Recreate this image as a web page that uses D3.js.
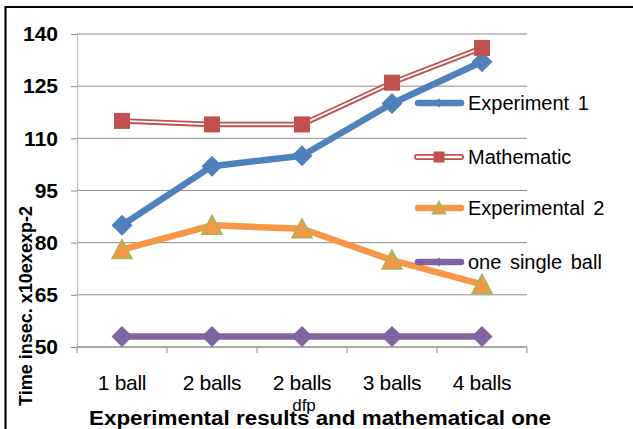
<!DOCTYPE html>
<html>
<head>
<meta charset="utf-8">
<script src="https://cdn.jsdelivr.net/npm/d3@7"></script>
<style>
  html, body { margin: 0; padding: 0; background: #fff; }
  svg { display: block; font-family: "Liberation Sans", Arial, sans-serif; }
</style>
</head>
<body>
<svg id="chart" width="633" height="429"></svg>
<script>
// Categories along the x axis
const categories = ["1 ball", "2 balls", "2 balls", "3 balls", "4 balls"];
// Series values (time in sec. x10^-2)
const experiment1 = [85, 102, 105, 120, 132];
const mathematic = [115, 114, 114, 126, 136];
const experimental2 = [78, 85, 84, 75, 68];
const singleBall = [53, 53, 53, 53, 53];
// Y axis ticks
const yTicks = [50, 65, 80, 95, 110, 125, 140];

const seriesList = [
  { name: "Experiment 1", values: experiment1, color: "#4F81BD", marker: "diamond" },
  { name: "Mathematic", values: mathematic, color: "#C0504D", marker: "square", double: true },
  { name: "Experimental 2", values: experimental2, color: "#F79646", marker: "triangle" },
  { name: "one single ball", values: singleBall, color: "#8064A2", marker: "diamond" }
];

const svg = d3.select("#chart");
const plot = { left: 77, right: 527, top: 34, bottom: 347 };

// Outer frame (open at right and bottom edges of the page)
svg.append("path")
  .attr("d", "M5.5,440 L5.5,7 L640,7")
  .attr("fill", "none").attr("stroke", "#000").attr("stroke-width", 2.2);

const x = d3.scaleBand().domain(d3.range(categories.length))
  .range([plot.left, plot.right]).padding(0);
const y = d3.scaleLinear().domain([50, 140]).range([plot.bottom, plot.top]);
const cx = i => x(i) + x.bandwidth() / 2;

// Marker path generators: r is the half-extent of the marker
function markerPath(type, r) {
  const p = d3.path();
  if (type === "diamond") {
    p.moveTo(0, -r); p.lineTo(r, 0); p.lineTo(0, r); p.lineTo(-r, 0); p.closePath();
  } else if (type === "square") {
    p.rect(-r, -r, 2 * r, 2 * r);
  } else {
    p.moveTo(0, -r); p.lineTo(r, r * 0.9); p.lineTo(-r, r * 0.9); p.closePath();
  }
  return p.toString();
}
const markerSize = { diamond: 10.5, square: 8, triangle: 10 };
const legendMarkerSize = { diamond: 4.5, square: 5.5, triangle: 6.5 };

// Horizontal gridlines
svg.append("g").selectAll("line").data(yTicks).join("line")
  .attr("x1", plot.left).attr("x2", plot.right)
  .attr("y1", d => y(d)).attr("y2", d => y(d))
  .attr("stroke", "#8c8c8c").attr("stroke-width", 1);

// Y axis
const yAxis = svg.append("g").attr("transform", `translate(${plot.left},0)`)
  .call(d3.axisLeft(y).tickValues(yTicks).tickSize(6).tickPadding(13));
yAxis.select(".domain").attr("stroke", "#bfbfbf").attr("stroke-width", 1.2)
  .attr("d", `M0.5,${plot.top}V${plot.bottom}`);
yAxis.selectAll(".tick line").attr("stroke", "#8c8c8c");
yAxis.selectAll(".tick text")
  .attr("font-size", 21).attr("font-weight", "bold").attr("fill", "#000")
  .attr("font-family", "'Liberation Sans', Arial, sans-serif");

// X axis with ticks between categories
const xAxis = svg.append("g").attr("transform", `translate(0,${plot.bottom})`);
xAxis.append("line").attr("x1", plot.left).attr("x2", plot.right)
  .attr("stroke", "#8c8c8c");
xAxis.selectAll("line.tk").data(d3.range(categories.length + 1)).join("line")
  .attr("class", "tk")
  .attr("x1", i => plot.left + i * x.bandwidth()).attr("x2", i => plot.left + i * x.bandwidth())
  .attr("y1", 0).attr("y2", 6).attr("stroke", "#8c8c8c");
xAxis.selectAll("text").data(categories).join("text")
  .attr("x", (d, i) => cx(i)).attr("y", 43)
  .attr("text-anchor", "middle").attr("font-size", 21).attr("fill", "#000")
  .attr("letter-spacing", -0.3)
  .text(d => d);

// Series lines and markers
const line = d3.line().x((d, i) => cx(i)).y(d => y(d));

seriesList.forEach(s => {
  const g = svg.append("g");
  if (s.double) {
    g.append("path").attr("d", line(s.values)).attr("fill", "none")
      .attr("stroke", s.color).attr("stroke-width", 5.5);
    g.append("path").attr("d", line(s.values)).attr("fill", "none")
      .attr("stroke", "#fff").attr("stroke-width", 1.8);
  } else {
    g.append("path").attr("d", line(s.values)).attr("fill", "none")
      .attr("stroke", s.color).attr("stroke-width", 6.5).attr("stroke-linejoin", "round");
  }
  g.selectAll("path.m").data(s.values).join("path").attr("class", "m")
    .attr("d", markerPath(s.marker, markerSize[s.marker]))
    .attr("transform", (d, i) => `translate(${cx(i)},${y(d)})`)
    .attr("fill", s.color)
    .attr("stroke", s.marker === "triangle" ? "#9BBB59" : "none")
    .attr("stroke-width", 1.5);
});

// Legend
const legendY = [103, 157, 208, 262];
const legend = svg.append("g");
seriesList.forEach((s, k) => {
  const ly = legendY[k];
  const g = legend.append("g");
  if (s.double) {
    g.append("line").attr("x1", 417).attr("x2", 461).attr("y1", ly).attr("y2", ly)
      .attr("stroke", s.color).attr("stroke-width", 6).attr("stroke-linecap", "round");
    g.append("line").attr("x1", 417).attr("x2", 461).attr("y1", ly).attr("y2", ly)
      .attr("stroke", "#fff").attr("stroke-width", 2.4).attr("stroke-linecap", "round");
  } else {
    g.append("line").attr("x1", 418).attr("x2", 461).attr("y1", ly).attr("y2", ly)
      .attr("stroke", s.color).attr("stroke-width", 6.5).attr("stroke-linecap", "round");
  }
  g.append("path").attr("d", markerPath(s.marker, legendMarkerSize[s.marker]))
    .attr("transform", `translate(439,${ly})`)
    .attr("fill", s.color)
    .attr("stroke", s.marker === "triangle" ? "#9BBB59" : "none").attr("stroke-width", 1.5);
  g.append("text").attr("x", 468).attr("y", ly + 7)
    .attr("font-size", 20).attr("fill", "#000").attr("word-spacing", 3)
    .text(s.name);
});

// Axis titles
svg.append("text").attr("transform", "translate(32,306) rotate(-90)")
  .attr("text-anchor", "middle").attr("font-size", 18).attr("font-weight", "bold")
  .text("Time insec. x10exexp-2");
svg.append("text").attr("x", 304).attr("y", 411)
  .attr("text-anchor", "middle").attr("font-size", 17).text("dfp");
svg.append("text").attr("x", 320).attr("y", 425)
  .attr("text-anchor", "middle").attr("font-size", 20).attr("font-weight", "bold")
  .attr("textLength", 462).attr("lengthAdjust", "spacingAndGlyphs")
  .text("Experimental results and mathematical one");
</script>
</body>
</html>
